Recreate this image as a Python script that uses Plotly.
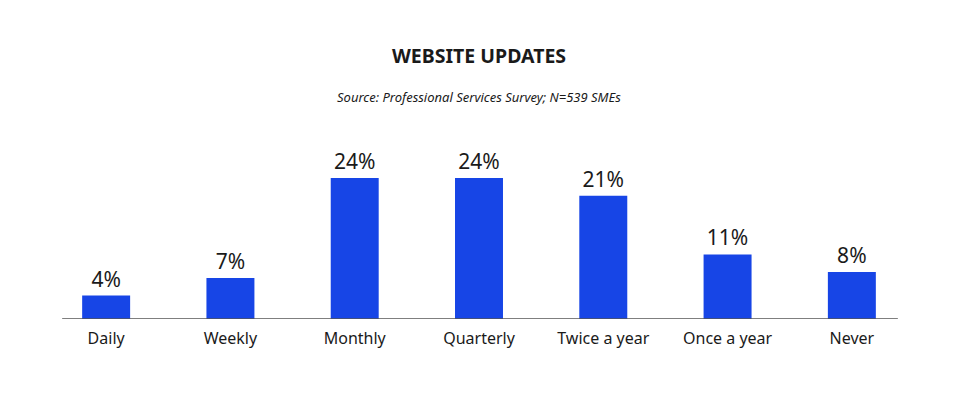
import plotly.graph_objects as go

categories = ["Daily", "Weekly", "Monthly", "Quarterly", "Twice a year", "Once a year", "Never"]
values = [4, 7, 24, 24, 21, 11, 8]
labels = [f"{v}%" for v in values]

# page has an 8px body margin, so the figure is placed 8px in
L, T, B, R = 36, 122, 89, 54
H = 400
plot_h = H - T - B


def py(y_page):
    # page pixel y -> paper y
    return (H - B - (y_page - 8)) / plot_h


fig = go.Figure(go.Bar(
    x=categories, y=values,
    text=labels, textposition="outside",
    textfont=dict(size=21, color="#1a1a1a"),
    marker=dict(color="#1745e6", line=dict(width=0)),
    width=0.386, cliponaxis=False,
))

# baseline
fig.add_shape(type="line", xref="x", yref="y", x0=-0.354, x1=6.37, y0=0, y1=0,
              line=dict(color="#555555", width=1.5))

fig.update_layout(
    width=960, height=H,
    margin=dict(l=L, r=R, t=T, b=B),
    paper_bgcolor="white", plot_bgcolor="white",
    font=dict(family="Noto Sans", color="#1a1a1a"),
    showlegend=False,
    annotations=[
        dict(text="<b>WEBSITE UPDATES</b>", xref="paper", yref="paper", x=0.5, y=py(55),
             yanchor="middle", showarrow=False, font=dict(size=19.5, color="#1a1a1a")),
        dict(text="<i>Source: Professional Services Survey; N=539 SMEs</i>", xref="paper",
             yref="paper", x=0.5, y=py(97), yanchor="middle", showarrow=False,
             font=dict(size=13, color="#1a1a1a")),
    ],
)

fig.update_xaxes(range=[-0.5, 6.5], showline=False, showgrid=False, ticks="",
                 ticklabelstandoff=8, tickfont=dict(size=16, color="#1a1a1a"))
fig.update_yaxes(range=[0, plot_h / 5.875], visible=False, showgrid=False)

fig.write_html("out.html")
